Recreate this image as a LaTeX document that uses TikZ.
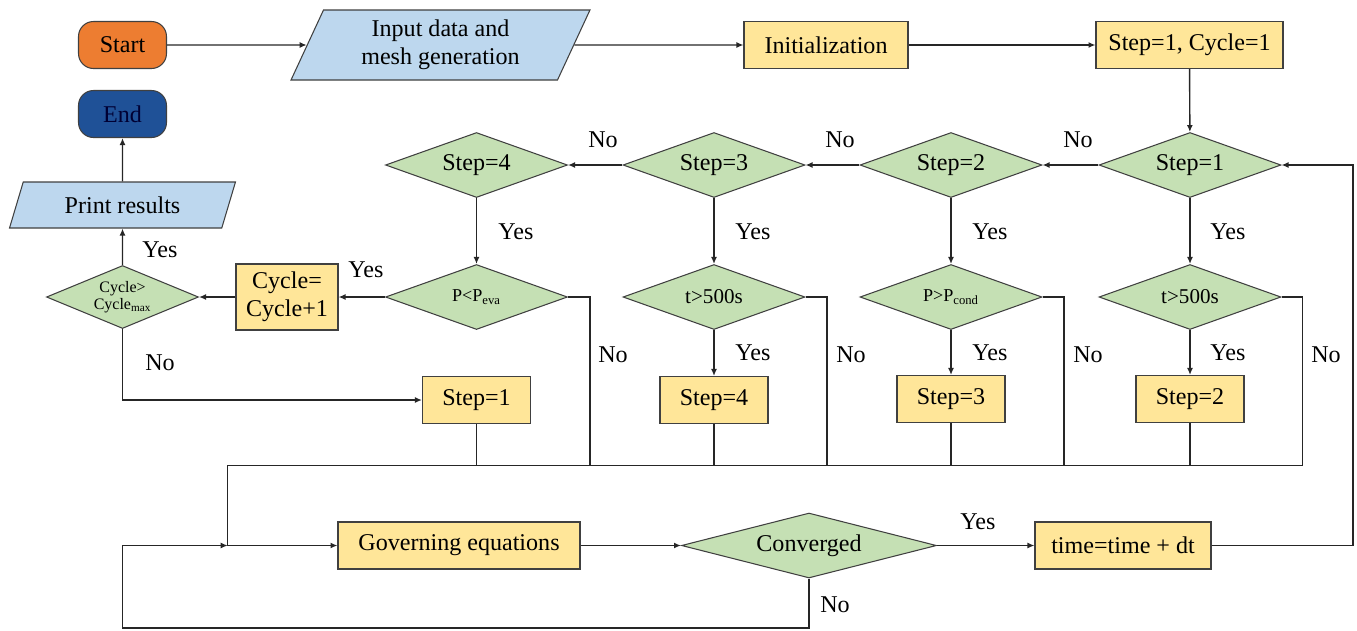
\documentclass[tikz,border=0pt]{standalone}
\usepackage{fontspec}
\setmainfont{Liberation Serif}
\usetikzlibrary{shapes.geometric,arrows.meta}
\definecolor{startorange}{HTML}{ED7D31}
\definecolor{endblue}{HTML}{1F5197}
\definecolor{ioblue}{HTML}{BDD7EE}
\definecolor{procyellow}{HTML}{FFE699}
\definecolor{decgreen}{HTML}{C5E0B4}
\tikzset{term/.style={draw=black!75,line width=0.6pt,rounded corners=3mm,minimum width=1.76cm,
        minimum height=0.94cm,inner sep=0pt},
        io/.style={draw=black!75,line width=0.6pt,fill=ioblue,trapezium,trapezium left angle=57,
        trapezium right angle=123,trapezium stretches body,inner sep=0pt,align=center},
        proc/.style={draw=black!75,line width=0.6pt,fill=procyellow,minimum height=0.94cm,
        inner sep=0pt,align=center},
        dec/.style={draw=black!75,line width=0.6pt,fill=decgreen,diamond,aspect=2.8,inner sep=0pt,
        minimum width=3.64cm,minimum height=1.3cm,align=center},
        small/.style={font=\fontsize{12}{14}\selectfont},
        tiny/.style={font=\fontsize{10.3}{12}\selectfont},
        lbl/.style={inner sep=0pt},
        arr/.style={-{Latex[length=1.4mm,width=1.2mm]}}}

\begin{document}
\begin{tikzpicture}[x=0.02cm,y=-0.02cm,line width=0.8pt,draw=black!85,
    font=\fontsize{13.7}{16}\selectfont]
  \useasboundingbox (0,0) rectangle (1357,630);
  \node[term,fill=startorange] (start) at (122.5,45) {Start};
  \node[term,fill=endblue,text=black!80!blue] (end) at (122.5,114) {End};
  \node[io,minimum width=5.98cm,minimum height=1.4cm] (input) at (440.5,45) {Input data and\\mesh generation};
  \node[proc,minimum width=3.28cm] (init) at (826,45) {Initialization};
  \node[proc,minimum width=3.74cm] (stepcyc) at (1189.5,45) {Step=1, Cycle=1};
  \node[io,trapezium left angle=51,trapezium right angle=129,minimum width=4.52cm,
      minimum height=0.92cm] (print) at (122.5,205) {Print results};

  \node[dec] (chk1) at (1190,165) {Step=1};
  \node[dec] (chk2) at (951,165) {Step=2};
  \node[dec] (chk3) at (714,165) {Step=3};
  \node[dec] (chk4) at (476.5,165) {Step=4};
  \node[dec,small] (tim1) at (1190,297) {t>500s};
  \node[dec,tiny] (pcond) at (951,297) {P>P\textsubscript{cond}};
  \node[dec,small] (tim2) at (714,297) {t>500s};
  \node[dec,tiny] (peva) at (476.5,297) {P<P\textsubscript{eva}};
  \node[proc,minimum width=2.04cm,minimum height=1.32cm] (cycinc) at (287,297) {Cycle=\\Cycle+1};
  \node[dec,minimum width=3.04cm,minimum height=1.26cm,font=\fontsize{9.1}{10}\selectfont]
      (cycmax) at (122.5,297) {Cycle>\\Cycle\textsubscript{max}};

  \node[proc,minimum width=2.16cm] (set2) at (1190,399) {Step=2};
  \node[proc,minimum width=2.16cm] (set3) at (951,399) {Step=3};
  \node[proc,minimum width=2.16cm] (set4) at (714,400) {Step=4};
  \node[proc,minimum width=2.16cm] (set1) at (476.5,400) {Step=1};

  \node[proc,minimum width=4.84cm] (gov) at (459,545.5) {Governing equations};
  \node[dec,minimum width=5.1cm] (conv) at (809,545.5) {Converged};
  \node[proc,minimum width=3.52cm] (time) at (1123,545.5) {time=time + dt};

  \coordinate (busR) at (1302.6,465.7);
  \coordinate (bus2) at (1064,465.7);
  \coordinate (bus3) at (827,465.7);
  \coordinate (bus4) at (590,465.7);
  \coordinate (busL) at (227.7,465.7);
  \coordinate (join) at (227.7,545.5);
  \coordinate (loopR) at (1353,165);
  \coordinate (loopB) at (122.5,628);

  \draw[arr] (start) -- (input);
  \draw[arr] (input) -- (init);
  \draw[arr] (init) -- (stepcyc);
  \draw[arr] (stepcyc) -- (chk1);
  \draw[arr] (chk1) -- (chk2);
  \draw[arr] (chk2) -- (chk3);
  \draw[arr] (chk3) -- (chk4);
  \draw[arr] (chk1) -- (tim1);
  \draw[arr] (chk2) -- (pcond);
  \draw[arr] (chk3) -- (tim2);
  \draw[arr] (chk4) -- (peva);
  \draw[arr] (tim1) -- (set2);
  \draw[arr] (pcond) -- (set3);
  \draw[arr] (tim2) -- (set4);
  \draw[arr] (peva) -- (cycinc);
  \draw[arr] (cycinc) -- (cycmax);
  \draw[arr] (cycmax) -- (print);
  \draw[arr] (print) -- (end);
  \draw[arr] (cycmax.south) |- (set1);

  \draw (tim1.east) -| (busR);
  \draw (pcond.east) -| (bus2);
  \draw (tim2.east) -| (bus3);
  \draw (peva.east) -| (bus4);
  \draw (set2) -- (set2 |- busR);
  \draw (set3) -- (set3 |- busR);
  \draw (set4) -- (set4 |- busR);
  \draw (set1) -- (set1 |- busR);
  \draw (busR) -- (busL) -- (join);

  \draw[arr] (join) -- (gov);
  \draw[arr] (gov) -- (conv);
  \draw[arr] (conv) -- (time);
  \draw[arr] (time.east) -| (loopR) -- (chk1.east);
  \draw[arr] (conv.south) |- (loopB) |- (join);

  \foreach \x/\y/\t [count=\i] in {1078/140/No,840/140/No,603/140/No,
      1228/232/Yes,990/232/Yes,753/232/Yes,516/232/Yes,
      1228/353/Yes,990/353/Yes,753/353/Yes,
      1326/355/No,1088/355/No,851/355/No,613/355/No,
      366/270/Yes,160/250/Yes,160/363/No,978/522/Yes,835/605/No}
    \node[lbl] (lb\i) at (\x,\y) {\t};
\end{tikzpicture}
\end{document}
